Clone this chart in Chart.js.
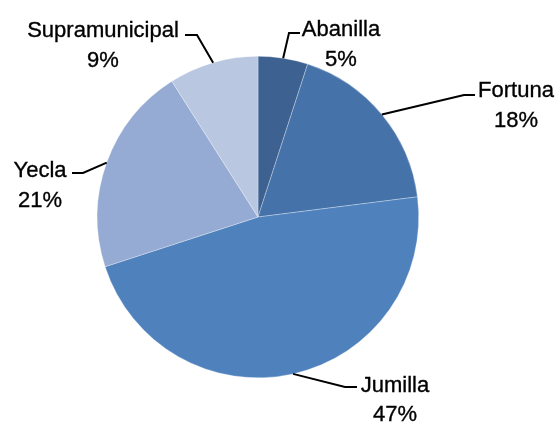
<!DOCTYPE html>
<html>
<head>
<meta charset="utf-8">
<script src="https://cdn.jsdelivr.net/npm/chart.js@4/dist/chart.umd.min.js"></script>
<style>
  html, body { margin: 0; padding: 0; background: #ffffff; }
  #wrap { width: 556px; height: 423px; position: relative; }
</style>
</head>
<body>
<div id="wrap"><canvas id="c" width="556" height="423"></canvas></div>
<script>
const categories = ["Abanilla", "Fortuna", "Jumilla", "Yecla", "Supramunicipal"];
const shares = [5, 18, 47, 21, 9];
const sliceColors = ["#3d6191", "#4572a9", "#4f81bd", "#95abd4", "#b9c7e0"];

// label placement relative to pie centre (layout only)
const labelLayout = [
  { cx: 341, b1: -181, b2: -151, elbow: [31, -184], end: [42, -184] },
  { cx: 516, b1: -120, b2: -90,  elbow: [206, -122], end: [217, -122] },
  { cx: 395, b1: 175,  b2: 204,  elbow: [87, 170],  end: [99, 170] },
  { cx: 40,  b1: -40,  b2: -10,  elbow: [-175, -44], end: [-186, -44] },
  { cx: 103, b1: -180, b2: -150, elbow: [-61, -182], end: [-73, -182] }
];

const labelPlugin = {
  id: 'pieLabels',
  afterDatasetsDraw(chart) {
    const ctx = chart.ctx;
    const meta = chart.getDatasetMeta(0);
    const vals = chart.data.datasets[0].data;
    const total = vals.reduce((a, b) => a + b, 0);
    ctx.save();
    meta.data.forEach((arc, i) => {
      const p = arc.getProps(['x', 'y', 'startAngle', 'endAngle', 'outerRadius'], true);
      const mid = (p.startAngle + p.endAngle) / 2;
      const sx = p.x + Math.cos(mid) * p.outerRadius;
      const sy = p.y + Math.sin(mid) * p.outerRadius;
      const L = labelLayout[i];
      ctx.strokeStyle = '#000000';
      ctx.lineWidth = 2;
      ctx.lineJoin = 'miter';
      ctx.beginPath();
      ctx.moveTo(sx, sy);
      ctx.lineTo(p.x + L.elbow[0], p.y + L.elbow[1]);
      ctx.lineTo(p.x + L.end[0], p.y + L.end[1]);
      ctx.stroke();
      ctx.fillStyle = '#000000';
      ctx.font = '22px "Liberation Sans", Arial, sans-serif';
      ctx.textAlign = 'center';
      ctx.textBaseline = 'alphabetic';
      ctx.lineWidth = 0.35;
      const cx = L.cx;
      const t1 = chart.data.labels[i];
      const t2 = Math.round(vals[i] / total * 100) + '%';
      ctx.fillText(t1, cx, p.y + L.b1);
      ctx.strokeText(t1, cx, p.y + L.b1);
      ctx.fillText(t2, cx, p.y + L.b2);
      ctx.strokeText(t2, cx, p.y + L.b2);
    });
    ctx.restore();
  }
};

new Chart(document.getElementById('c'), {
  type: 'pie',
  data: {
    labels: categories,
    datasets: [{
      data: shares,
      backgroundColor: sliceColors,
      borderColor: 'rgba(255,255,255,0.6)',
      borderWidth: 0.5
    }]
  },
  options: {
    responsive: false,
    animation: false,
    layout: { padding: { left: 97, right: 137, top: 56, bottom: 45 } },
    plugins: {
      legend: { display: false },
      tooltip: { enabled: false }
    }
  },
  plugins: [labelPlugin]
});
</script>
</body>
</html>
